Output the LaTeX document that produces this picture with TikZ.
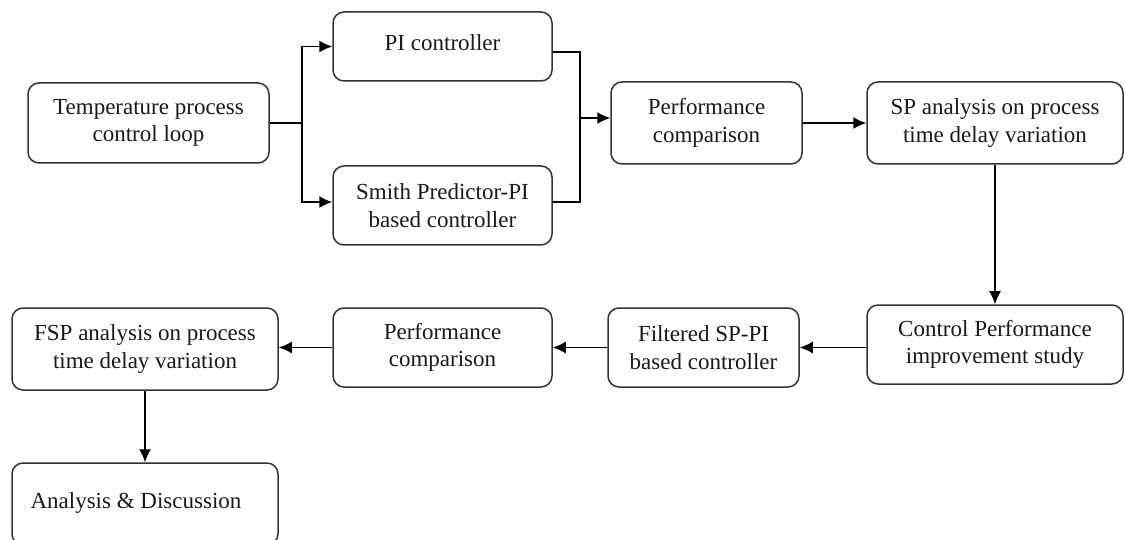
\documentclass[tikz,border=0pt]{standalone}
\usepackage{fontspec}
\setmainfont{Liberation Serif}
\usetikzlibrary{arrows.meta}

\begin{document}
\begin{tikzpicture}[x=1pt,y=-1pt,
  blk/.style={draw=black!80, line width=1.5pt, rounded corners=11pt, align=center,
    inner sep=0pt, text=black!90, font=\fontsize{23}{27.6}\selectfont},
  flow/.style={line width=1.5pt, -{Latex[length=13pt,width=12pt]}},
  wire/.style={line width=1.5pt}]
\useasboundingbox (0,0) rectangle (1125,540);
\node[blk, minimum width=241pt, minimum height=80pt] (temp) at (148.5,123) {Temperature process\\control loop};
\node[blk, minimum width=219pt, minimum height=69pt] (pi) at (442.5,46.5) {\raisebox{8pt}{PI controller}};
\node[blk, minimum width=219pt, minimum height=79pt] (smith) at (442.5,205.5) {Smith Predictor-PI\\based controller};
\node[blk, minimum width=191pt, minimum height=82pt] (perfA) at (706.5,123) {Performance\\comparison};
\node[blk, minimum width=256pt, minimum height=82pt] (sp) at (995,123) {SP analysis on process\\time delay variation};
\node[blk, minimum width=256pt, minimum height=79pt] (ctrl) at (995,344.5) {Control Performance\\improvement study};
\node[blk, minimum width=191pt, minimum height=79pt] (filt) at (703.5,347.5) {Filtered SP-PI\\based controller};
\node[blk, minimum width=219pt, minimum height=79pt] (perfB) at (442.5,347.5) {Performance\\comparison};
\node[blk, minimum width=266pt, minimum height=82pt] (fsp) at (145,349) {FSP analysis on process\\time delay variation};
\node[blk, minimum width=266pt, minimum height=82pt] (anal) at (145,504) {\raisebox{7pt}{\hspace*{-18pt}Analysis \& Discussion}};
\coordinate (fork) at (302,123);
\coordinate (join) at (580,118);
% upper row
\draw[wire] (temp.east) -- (fork);
\draw[flow] (fork) |- (pi.west);
\draw[flow] (fork) |- ([yshift=3.5pt]smith.west);
\draw[wire] ([yshift=-5.5pt]pi.east) -| (join);
\draw[wire] ([yshift=3.5pt]smith.east) -| (join);
\draw[flow] (join) -- (join -| perfA.west);
\draw[flow] (perfA.east) -- (sp.west);
\draw[flow] (sp.south) -- (ctrl.north);
% lower row
\draw[flow] (ctrl.west |- filt.east) -- (filt.east);
\draw[flow] (filt.west) -- (perfB.east);
\draw[flow] (perfB.west) -- (perfB.west -| fsp.east);
\draw[flow] (fsp.south) -- (anal.north);
\end{tikzpicture}
\end{document}
